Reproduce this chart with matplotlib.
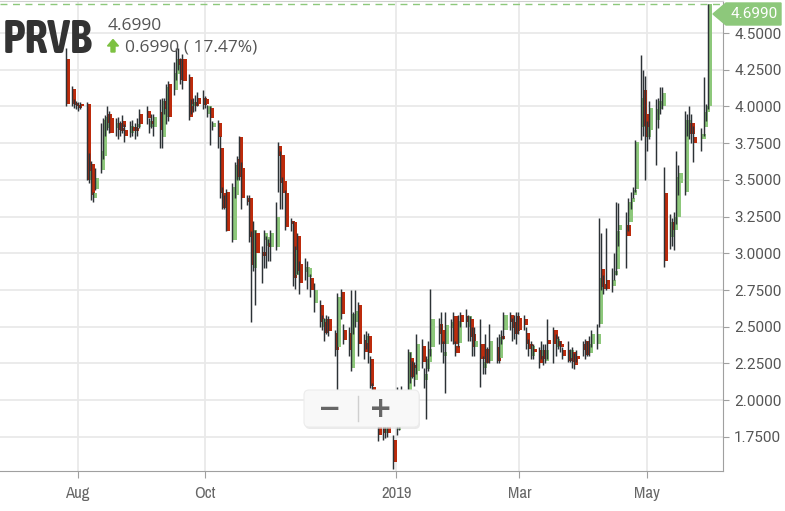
import numpy as np
import pandas as pd
import matplotlib
matplotlib.use('Agg')
import matplotlib.pyplot as plt
import matplotlib.dates as mdates
import matplotlib.patheffects as pe
from matplotlib import font_manager
from matplotlib.patches import FancyBboxPatch, Polygon
from datetime import datetime

# daily OHLC, Jul 27 2018 .. May 31 2019 (one line per month)
opens = [
    4.32, 4.12, 4.02, 4.01, 4.01, 4.02, 4.02, 3.50, 3.61, 3.38, 3.44, 3.57, 3.66, 3.85, 3.95, 3.92, 3.85, 3.89, 3.85, 3.90, 3.84, 3.82, 3.86, 3.85, 3.86, 3.95,
    3.97, 3.86, 3.90, 3.86, 3.96, 3.79, 4.04, 3.93, 4.15, 4.11, 4.22, 4.32, 4.28, 4.32, 4.20, 4.00, 4.01, 4.03, 4.06,
    4.06, 4.05, 3.95, 3.99, 3.86, 3.89, 3.72, 3.41, 3.37, 3.42, 3.09, 3.40, 3.64, 3.79, 3.58, 3.38, 3.38, 3.11, 2.90, 3.14, 3.01, 3.09, 3.05,
    3.07, 3.04, 3.04, 3.73, 3.67, 3.49, 3.41, 3.22, 3.21, 2.85, 3.12, 2.93, 2.87, 2.84, 2.83, 2.66, 2.65, 2.50, 2.53, 2.55, 2.55,
    2.46, 2.36, 2.74, 2.48, 2.46, 2.22, 2.53, 2.53, 2.65, 2.41, 2.39, 2.44, 2.28, 2.09, 1.84, 1.82, 1.78, 1.82, 1.73,
    1.80, 1.82, 1.96, 2.06, 2.29, 2.24, 2.14, 2.20, 2.37, 2.14, 2.21, 2.26, 2.36, 2.52, 2.48, 2.30, 2.38, 2.49, 2.57, 2.37, 2.39,
    2.58, 2.57, 2.50, 2.55, 2.45, 2.36, 2.38, 2.22, 2.35, 2.32, 2.27, 2.36, 2.29, 2.44, 2.48, 2.58, 2.53, 2.51, 2.57,
    2.56, 2.55, 2.46, 2.38, 2.30, 2.35, 2.34, 2.30, 2.34, 2.27, 2.41, 2.48, 2.36, 2.40, 2.38, 2.34, 2.34, 2.29, 2.33, 2.30, 2.30,
    2.38, 2.40, 2.38, 2.32, 2.38, 2.38, 2.52, 2.89, 2.79, 2.82, 2.78, 2.85, 2.89, 3.16, 3.19, 3.21, 3.35, 3.40, 3.44, 3.86, 4.11,
    3.95, 3.79, 3.84, 3.91, 3.98, 4.00, 4.00, 3.41, 3.11, 3.21, 3.16, 3.25, 3.48, 3.42, 3.86, 3.89, 3.89, 3.79, 3.78, 3.86, 3.96, 4.00,
]
highs = [
    4.40, 4.14, 4.05, 4.04, 4.03, 4.03, 4.03, 3.68, 3.63, 3.42, 3.58, 3.89, 3.92, 3.94, 4.00, 3.97, 3.92, 3.93, 3.90, 3.94, 3.88, 3.90, 3.91, 3.89, 3.92, 3.98,
    4.00, 3.92, 3.95, 3.95, 4.05, 4.06, 4.06, 4.15, 4.17, 4.30, 4.40, 4.40, 4.33, 4.36, 4.22, 4.05, 4.06, 4.08, 4.10,
    4.11, 4.07, 4.01, 4.00, 3.90, 3.91, 3.80, 3.45, 3.40, 3.44, 3.48, 3.62, 3.66, 3.80, 3.62, 3.40, 3.40, 3.15, 3.22, 3.16, 3.05, 3.16, 3.12,
    3.10, 3.16, 3.35, 3.76, 3.70, 3.52, 3.43, 3.24, 3.22, 3.05, 3.14, 2.95, 2.97, 2.95, 2.86, 2.80, 2.68, 2.58, 2.56, 2.58, 2.57,
    2.48, 2.73, 2.76, 2.52, 2.50, 2.75, 2.60, 2.75, 2.67, 2.45, 2.47, 2.46, 2.30, 2.12, 1.90, 1.88, 1.86, 1.88, 1.76,
    2.09, 1.98, 2.10, 2.35, 2.33, 2.27, 2.26, 2.45, 2.42, 2.22, 2.30, 2.40, 2.76, 2.56, 2.60, 2.40, 2.60, 2.55, 2.60, 2.40, 2.58,
    2.60, 2.62, 2.58, 2.57, 2.50, 2.50, 2.55, 2.30, 2.45, 2.36, 2.52, 2.43, 2.45, 2.48, 2.60, 2.60, 2.56, 2.58, 2.60,
    2.60, 2.58, 2.50, 2.42, 2.40, 2.38, 2.36, 2.40, 2.38, 2.38, 2.55, 2.50, 2.45, 2.44, 2.40, 2.36, 2.40, 2.35, 2.36, 2.32, 2.34,
    2.40, 2.42, 2.40, 2.44, 2.48, 2.52, 3.24, 3.14, 2.85, 3.17, 2.90, 3.00, 3.35, 3.34, 3.28, 3.38, 3.42, 3.45, 3.77, 4.35, 4.25,
    4.21, 3.90, 4.04, 4.05, 4.06, 4.13, 4.13, 3.59, 3.27, 3.24, 3.28, 3.70, 3.60, 3.97, 3.95, 4.00, 3.95, 3.87, 3.85, 4.20, 4.02, 4.70,
]
lows = [
    4.00, 4.00, 3.99, 3.98, 3.97, 3.98, 3.50, 3.48, 3.36, 3.35, 3.43, 3.55, 3.64, 3.80, 3.84, 3.82, 3.80, 3.78, 3.80, 3.82, 3.76, 3.79, 3.80, 3.78, 3.80, 3.85,
    3.88, 3.82, 3.85, 3.80, 3.72, 3.72, 3.95, 3.88, 3.90, 4.08, 4.18, 4.25, 4.15, 4.12, 3.91, 3.95, 3.96, 3.97, 4.00,
    3.98, 3.99, 3.93, 3.74, 3.84, 3.72, 3.38, 3.30, 3.30, 3.15, 3.08, 3.38, 3.50, 3.50, 3.30, 3.33, 3.08, 2.53, 2.88, 2.65, 2.80, 2.90, 2.90,
    2.95, 2.95, 3.02, 3.42, 3.30, 3.30, 3.16, 3.15, 2.78, 2.76, 2.86, 2.72, 2.82, 2.76, 2.70, 2.60, 2.50, 2.48, 2.40, 2.45, 2.44,
    2.30, 2.07, 2.55, 2.38, 2.30, 2.20, 2.45, 2.50, 2.30, 2.28, 2.35, 2.25, 2.08, 1.98, 1.72, 1.73, 1.74, 1.75, 1.53,
    1.76, 1.80, 1.92, 2.04, 2.12, 2.15, 2.10, 2.18, 2.22, 2.08, 1.87, 2.20, 2.30, 2.38, 2.33, 2.25, 2.05, 2.40, 2.38, 2.30, 2.36,
    2.50, 2.50, 2.40, 2.40, 2.30, 2.30, 2.09, 2.18, 2.18, 2.25, 2.25, 2.25, 2.25, 2.38, 2.42, 2.48, 2.40, 2.42, 2.38,
    2.45, 2.48, 2.35, 2.30, 2.28, 2.28, 2.22, 2.28, 2.24, 2.25, 2.28, 2.25, 2.30, 2.35, 2.33, 2.28, 2.26, 2.26, 2.22, 2.21, 2.26,
    2.30, 2.28, 2.30, 2.30, 2.36, 2.35, 2.50, 2.75, 2.72, 2.75, 2.74, 2.82, 2.85, 3.05, 2.90, 3.15, 3.30, 3.38, 3.42, 3.77, 3.80,
    3.50, 3.70, 3.78, 3.60, 3.85, 3.95, 3.98, 2.91, 3.03, 3.05, 3.02, 3.20, 3.40, 3.40, 3.80, 3.78, 3.75, 3.62, 3.70, 3.80, 3.90, 3.98,
]
closes = [
    4.02, 4.02, 4.01, 4.00, 3.99, 4.00, 3.50, 3.56, 3.40, 3.41, 3.51, 3.70, 3.91, 3.93, 3.89, 3.82, 3.89, 3.84, 3.83, 3.86, 3.80, 3.87, 3.83, 3.83, 3.88, 3.88,
    3.92, 3.90, 3.88, 3.93, 3.84, 4.04, 3.98, 4.13, 3.93, 4.23, 4.32, 4.28, 4.18, 4.17, 3.93, 4.02, 4.03, 4.00, 4.02,
    4.01, 4.02, 4.00, 3.92, 3.89, 3.79, 3.41, 3.31, 3.33, 3.15, 3.45, 3.60, 3.52, 3.52, 3.38, 3.35, 3.11, 2.92, 3.16, 3.00, 2.98, 3.14, 3.11,
    3.04, 3.14, 3.25, 3.66, 3.48, 3.41, 3.18, 3.20, 2.83, 3.02, 2.88, 2.80, 2.91, 2.90, 2.75, 2.75, 2.53, 2.55, 2.46, 2.48, 2.47,
    2.34, 2.70, 2.59, 2.41, 2.34, 2.59, 2.56, 2.61, 2.38, 2.33, 2.44, 2.32, 2.10, 2.07, 1.76, 1.78, 1.82, 1.78, 1.58,
    1.83, 1.95, 2.05, 2.33, 2.16, 2.19, 2.22, 2.38, 2.26, 2.18, 2.28, 2.35, 2.55, 2.45, 2.38, 2.33, 2.51, 2.53, 2.38, 2.32, 2.54,
    2.53, 2.53, 2.57, 2.43, 2.36, 2.40, 2.28, 2.26, 2.25, 2.28, 2.40, 2.27, 2.43, 2.42, 2.58, 2.53, 2.49, 2.45, 2.47,
    2.48, 2.51, 2.38, 2.35, 2.37, 2.33, 2.25, 2.34, 2.28, 2.34, 2.38, 2.38, 2.42, 2.37, 2.36, 2.30, 2.27, 2.34, 2.26, 2.24, 2.28,
    2.34, 2.31, 2.34, 2.38, 2.45, 2.45, 2.83, 2.77, 2.76, 2.76, 2.82, 2.88, 3.15, 3.19, 3.12, 3.35, 3.38, 3.43, 3.76, 4.06, 3.87,
    3.79, 3.86, 3.99, 3.98, 4.04, 4.02, 4.09, 2.95, 3.21, 3.16, 3.25, 3.52, 3.55, 3.91, 3.91, 3.81, 3.81, 3.75, 3.81, 3.96, 4.00, 4.699,
]
holidays = ['2018-09-03', '2018-11-22', '2018-12-05', '2018-12-25', '2019-01-01',
            '2019-01-21', '2019-02-18', '2019-04-19', '2019-05-27']
dates = pd.bdate_range('2018-07-27', '2019-05-31', freq='C', holidays=holidays)

tick_dates = ['2018-08-01', '2018-10-01', '2019-01-01', '2019-03-01', '2019-05-01']
tick_labels = ['Aug', 'Oct', '2019', 'Mar', 'May']
y_ticks = [1.75, 2.0, 2.25, 2.5, 2.75, 3.0, 3.25, 3.5, 3.75, 4.0, 4.25, 4.5]

symbol = 'PRVB'
last_price = 4.6990
change = 0.6990
change_pct = 17.47

RED = '#bd2b0c'
GREEN = '#8dc87b'
WICK = '#2c3236'

# look for a condensed face (bold if there is one)
def is_narrow(f):
    return 'Condensed' in f.name or 'Narrow' in f.name
def is_bold(f):
    w = f.weight
    if isinstance(w, str):
        w = font_manager.weight_dict.get(w, 400)
    return w >= 600

ttf = font_manager.fontManager.ttflist
narrow = [f.name for f in ttf if is_narrow(f)]
narrow_bold = [f.name for f in ttf if is_narrow(f) and is_bold(f)]
COND = [narrow[0], 'DejaVu Sans'] if narrow else ['Lato', 'DejaVu Sans']
if narrow_bold:
    TITLE = [narrow_bold[0], 'DejaVu Sans']
    title_fx = []
else:
    # thicken the regular narrow face
    TITLE = COND
    title_fx = [pe.withStroke(linewidth=2.2, foreground='#333333')]

o = np.array(opens); h = np.array(highs); l = np.array(lows); c = np.array(closes)
x = mdates.date2num(dates.to_pydatetime())

fig = plt.figure(figsize=(7.85, 5.11), dpi=100)
ax = fig.add_axes([0, 40/511, 723/785, 470/511])

up = c >= o
cols = np.where(up, GREEN, RED)
body_lo = np.minimum(o, c)
body_h = np.maximum(np.abs(c - o), 0.012)
ax.bar(x + 0.45, body_h, bottom=body_lo, width=1.75, color=cols, linewidth=0, zorder=3)
ax.vlines(x - 0.65, l, h, color=WICK, linewidth=1.05, zorder=4)

ax.axhline(last_price, color=GREEN, linewidth=1, linestyle=(0, (5, 4)), zorder=2)

aug1 = mdates.date2num(datetime(2018, 8, 1))
ppd = (646.5 - 77.5) / 273
ax.set_xlim(aug1 - 77.5/ppd, aug1 + (723 - 77.5)/ppd)
ax.set_ylim(1.518, 4.718)

ax.set_xticks(mdates.date2num(pd.to_datetime(tick_dates).to_pydatetime()))
ax.set_xticklabels(tick_labels)
ax.set_yticks(y_ticks)
ax.yaxis.set_major_formatter(matplotlib.ticker.FormatStrFormatter('%.4f'))
ax.yaxis.tick_right()

ax.grid(True, color='#e9e9e9', linewidth=1.3, zorder=0)
ax.set_axisbelow(True)
ax.spines['left'].set_visible(False)
ax.spines['top'].set_color('#d0d0d0')
ax.spines['right'].set_color('#a0a0a0')
ax.spines['bottom'].set_color('#a0a0a0')
ax.tick_params(axis='y', colors='#a0a0a0', length=4, pad=4, labelcolor='#555555', labelsize=11)
ax.tick_params(axis='x', colors='#a0a0a0', length=5, pad=6, labelcolor='#666666', labelsize=12)
for t in ax.get_yticklabels():
    t.set_family(['Roboto', 'DejaVu Sans'])
for t in ax.get_xticklabels():
    t.set_family(COND)

# header
fig.text(3/785, 1 - 53/511, symbol, fontsize=33, fontweight='bold', color='#333333',
         family=TITLE, va='baseline', path_effects=title_fx)
fig.text(108/785, 1 - 30/511, '%.4f' % last_price, fontsize=12.5, color='#555555',
         family=['Open Sans', 'DejaVu Sans'], va='baseline')
fig.text(125/785, 1 - 52/511, '%.4f ( %.2f%%)' % (change, change_pct), fontsize=12.5,
         color='#555555', family=['Open Sans', 'DejaVu Sans'], va='baseline')

px = fig.dpi_scale_trans
def P(xp, yp):
    return (xp/100, (511 - yp)/100)

arrow = Polygon([P(107.5, 46), P(113, 39.5), P(118.5, 46), P(115, 46), P(115, 52),
                 P(111, 52), P(111, 46)], closed=True, transform=px, color='#7dc142')
fig.add_artist(arrow)

# last price tag
tag = Polygon([P(713, 14), P(726, 3), P(781, 3), P(781, 25), P(726, 25)], closed=True,
              transform=px, color=GREEN, zorder=5)
fig.add_artist(tag)
fig.text(754/785, 1 - 14.5/511, '%.4f' % last_price, color='white', fontsize=11,
         family=['Roboto', 'DejaVu Sans'], ha='center', va='center', zorder=6)

# zoom buttons overlay
shadow = FancyBboxPatch(P(305, 429), 115/100, 37/100,
                        boxstyle='round,pad=0,rounding_size=0.05', transform=px,
                        facecolor='#dcdcdc', edgecolor='none', alpha=0.6, zorder=7)
fig.add_artist(shadow)
box = FancyBboxPatch(P(304, 427), 115/100, 37/100,
                     boxstyle='round,pad=0,rounding_size=0.05', transform=px,
                     facecolor='#f8f8f8', edgecolor='#ececec', linewidth=0.8, zorder=8)
fig.add_artist(box)
fig.add_artist(plt.Line2D([358/100, 358/100], [(511-421)/100, (511-396)/100], transform=px,
                          color='#cfcfcf', linewidth=1, zorder=9))
fig.text(330/785, 1 - 409/511, '\u2212', fontsize=20, fontweight='bold', color='#666666',
         ha='center', va='center', zorder=10)
fig.text(381/785, 1 - 409/511, '+', fontsize=20, fontweight='bold', color='#666666',
         ha='center', va='center', zorder=10)

fig.savefig('out.png', dpi=100)
